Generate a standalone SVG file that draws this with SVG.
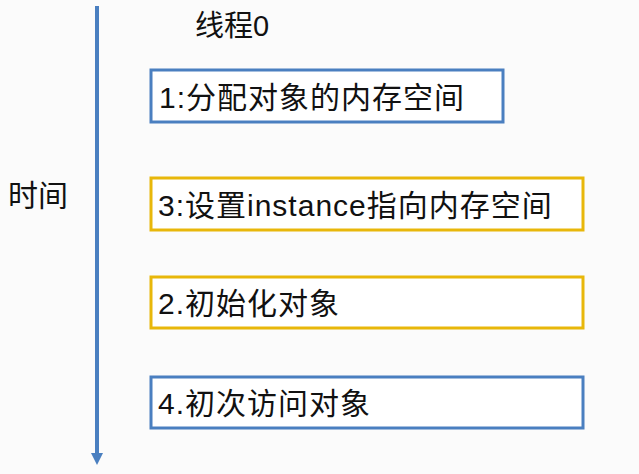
<svg xmlns="http://www.w3.org/2000/svg" width="639" height="474" viewBox="0 0 639 474">
<style>
.t{font-family:"Liberation Sans","Noto Sans CJK SC",sans-serif;fill:#111;}
.b{font-size:30px;letter-spacing:1px;}
.blue{fill:#fff;stroke:#4a7fc0;stroke-width:3;}
.gold{fill:#fff;stroke:#e8b70a;stroke-width:3;}
</style>
<rect width="639" height="474" fill="#fbfbfb"/>
<g id="connectors">
<line x1="97" y1="6" x2="97" y2="453" stroke="#4a7fc0" stroke-width="4"/>
<path d="M91,453 L103,453 L97,465 Z" fill="#4a7fc0"/>
</g>
<g id="title"><text class="t" x="195" y="36" font-size="29">线程0</text></g>
<g id="time"><text class="t" x="8" y="206" font-size="30">时间</text></g>
<g id="n1">
<rect class="blue" x="151" y="70" width="352" height="52"/>
<text class="t b" x="159" y="108">1:分配对象的内存空间</text>
</g>
<g id="n3">
<rect class="gold" x="151" y="178" width="432" height="52"/>
<text class="t b" x="158" y="216">3:设置instance指向内存空间</text>
</g>
<g id="n2">
<rect class="gold" x="151" y="277" width="432" height="51"/>
<text class="t b" x="158" y="314">2.初始化对象</text>
</g>
<g id="n4">
<rect class="blue" x="151" y="377" width="432" height="51"/>
<text class="t b" x="158" y="414">4.初次访问对象</text>
</g>
</svg>
